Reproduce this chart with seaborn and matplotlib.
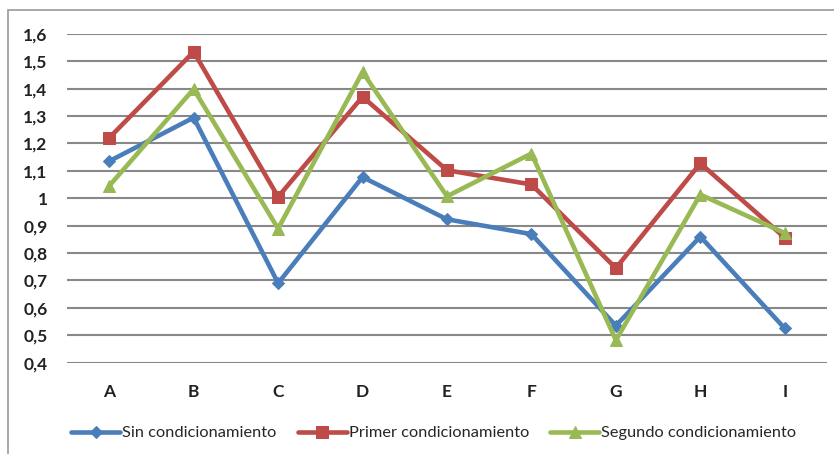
import pandas as pd
import matplotlib.pyplot as plt
import seaborn as sns
from matplotlib.patches import Rectangle

# Data
categories = ['A', 'B', 'C', 'D', 'E', 'F', 'G', 'H', 'I']
sin_cond = [1.135, 1.294, 0.690, 1.077, 0.923, 0.869, 0.535, 0.860, 0.525]
primer_cond = [1.220, 1.534, 1.005, 1.370, 1.102, 1.050, 0.745, 1.127, 0.856]
segundo_cond = [1.045, 1.398, 0.889, 1.460, 1.007, 1.163, 0.482, 1.013, 0.873]
series_names = ['Sin condicionamiento', 'Primer condicionamiento', 'Segundo condicionamiento']
y_ticks = [0.4, 0.5, 0.6, 0.7, 0.8, 0.9, 1.0, 1.1, 1.2, 1.3, 1.4, 1.5, 1.6]

df = pd.DataFrame({'cat': categories * 3,
                   'value': sin_cond + primer_cond + segundo_cond,
                   'serie': [s for s in series_names for _ in categories]})

sns.set_style('white')
plt.rcParams['font.family'] = ['Lato', 'DejaVu Sans']

colors = ['#4A7EBB', '#BE4B48', '#98B954']
markers = ['D', 's', '^']
msizes = [11, 15, 15]

fig = plt.figure(figsize=(8.34, 4.54), dpi=100)
ax = fig.add_axes([67 / 834, 1 - 362.7 / 454, 760 / 834, (362.7 - 33.7) / 454])

for name, c, m, ms in zip(series_names, colors, markers, msizes):
    sns.lineplot(data=df[df['serie'] == name], x='cat', y='value', color=c,
                 marker=m, markeredgecolor=c, linewidth=3.3,
                 sort=False, ax=ax, label=name, legend=False)
    ax.lines[-1].set_markersize(ms)

ax.set_ylim(0.4, 1.6)
ax.set_xlim(-0.5, len(categories) - 0.5)
ax.set_yticks(y_ticks)
ax.set_yticklabels([('%g' % t).replace('.', ',') for t in y_ticks],
                   fontsize=12.5, fontweight='bold', color='#222222')
ax.set_xticks(range(len(categories)))
ax.set_xticklabels(categories, fontsize=12.5, fontweight='bold', color='#222222')
ax.tick_params(axis='x', length=0, pad=15)
ax.tick_params(axis='y', length=0, pad=14)
ax.set_xlabel('')
ax.set_ylabel('')
ax.grid(axis='y', color='#888888', linewidth=1.5)
ax.set_axisbelow(True)
for s in ['top', 'right', 'left', 'bottom']:
    ax.spines[s].set_visible(False)

# legend at the bottom
handles, labels = ax.get_legend_handles_labels()
for h, ms in zip(handles, [6, 8, 8]):
    h.set_markersize(ms)
fig.legend(handles, labels, loc='center', bbox_to_anchor=(0.52, 1 - 433 / 454),
           ncol=3, frameon=False, fontsize=11.8, handlelength=3.0,
           handletextpad=0.1, columnspacing=1.3)

# outer chart frame
fig.patches.append(Rectangle((8 / 834, -0.01), 1.0, 1 - 10 / 454 + 0.01,
                             transform=fig.transFigure, fill=False,
                             edgecolor='#9a9a9a', linewidth=1.2))

fig.savefig('out.png', dpi=100)
